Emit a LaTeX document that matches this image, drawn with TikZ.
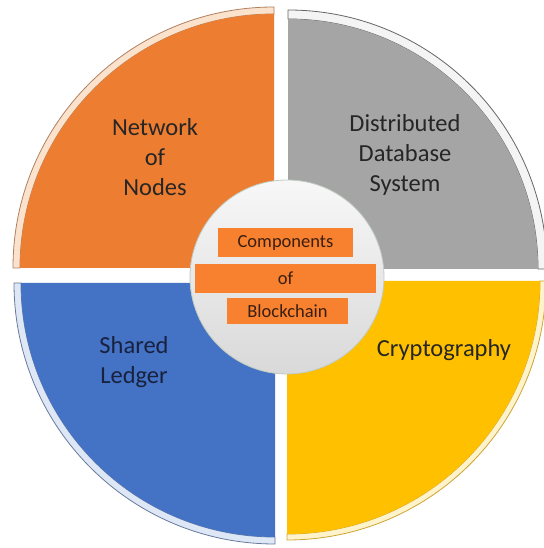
\documentclass[tikz,border=0pt]{standalone}
\usepackage{fontspec}
\setmainfont{Carlito}
\definecolor{qorange}{HTML}{ED7D31}
\definecolor{qgray}{HTML}{A5A5A5}
\definecolor{qblue}{HTML}{4472C4}
\definecolor{qyellow}{HTML}{FFC000}
\definecolor{rorange}{HTML}{FBE2CC}
\definecolor{rgray}{HTML}{F4F4F4}
\definecolor{rblue}{HTML}{DDE7F5}
\definecolor{ryellow}{HTML}{FFF3CC}
\definecolor{boxorange}{HTML}{F7812E}
\definecolor{boxtext}{HTML}{3A1E10}
\definecolor{qtext}{HTML}{262626}
\definecolor{btext}{HTML}{18223F}
\tikzset{
  rimline/.style={line width=0.8pt},
  qlabel/.style={align=center, font=\fontsize{24.5}{30}\selectfont, text=qtext, inner sep=0pt},
  cbox/.style={fill=boxorange, draw=none, inner sep=0pt},
  ctext/.style={font=\fontsize{18.5}{22}\selectfont, text=boxtext, inner sep=0pt}
}
\begin{document}
\begin{tikzpicture}[x=1pt,y=1pt]
\useasboundingbox (0,0) rectangle (543,548);
\fill[white] (0,0) rectangle (543,548);
% rims
\filldraw[fill=rorange, draw=qorange!60!black!70, rimline] (274,280) ++(0,261) arc[start angle=90,end angle=180,radius=261] -- ++(7,0) arc[start angle=180,end angle=90,radius=254] -- cycle;
\filldraw[fill=rgray, draw=gray!80!black, rimline] (288,279) ++(0,259) arc[start angle=90,end angle=0,radius=259] -- ++(-9,0) arc[start angle=0,end angle=90,radius=250] -- cycle;
\filldraw[fill=rblue, draw=qblue!40!gray, rimline] (275,265) ++(-261,0) arc[start angle=180,end angle=270,radius=261] -- ++(0,7) arc[start angle=270,end angle=180,radius=254] -- cycle;
\filldraw[fill=ryellow, draw=qyellow!60!gray, rimline] (287,267) ++(0,-259) arc[start angle=270,end angle=360,radius=259] -- ++(-6,0) arc[start angle=360,end angle=270,radius=253] -- cycle;
% quadrants
\fill[qorange] (274,280) -- ++(0,254) arc[start angle=90,end angle=180,radius=254] -- cycle;
\fill[qgray] (288,279) -- ++(250,0) arc[start angle=0,end angle=90,radius=250] -- cycle;
\fill[qblue] (275,265) -- ++(-254,0) arc[start angle=180,end angle=270,radius=254] -- cycle;
\fill[qyellow] (287,267) -- ++(0,-253) arc[start angle=270,end angle=360,radius=253] -- cycle;
% labels
\node[qlabel] (net) at (155,391) {Network\\of\\Nodes};
\node[qlabel] (dist) at (405,393) {Distributed\\Database\\System};
\node[qlabel, text=btext] (ledger) at (134,186) {Shared\\Ledger};
\node[qlabel] (crypto) at (444,198) {Cryptography};
% centre
\node[circle, minimum size=194pt, inner sep=0pt, top color=gray!6, bottom color=gray!30, draw=green!10!gray!45, line width=0.8pt] (hub) at (287,271) {};
\node[cbox, minimum width=135pt, minimum height=29pt] (b1) at (285.5,305.5) {};
\node[cbox, minimum width=181pt, minimum height=29pt] (b2) at (285.5,269.5) {};
\node[cbox, minimum width=121pt, minimum height=26pt] (b3) at (287.5,237) {};
\node[ctext] (t1) at (b1) {Components};
\node[ctext] (t2) at (b2) {of};
\node[ctext] (t3) at (b3) {Blockchain};
\end{tikzpicture}
\end{document}
